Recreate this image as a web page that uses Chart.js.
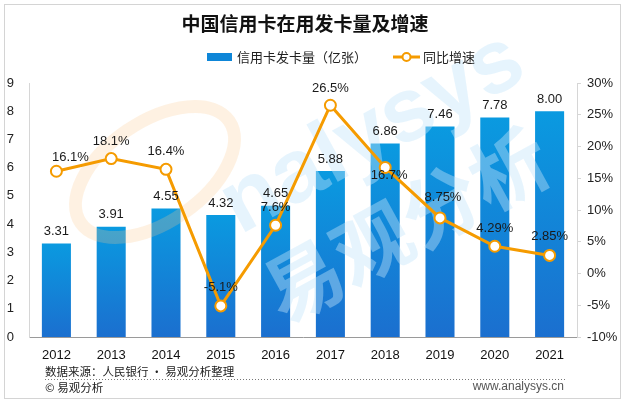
<!DOCTYPE html>
<html>
<head>
<meta charset="UTF-8">
<title>中国信用卡在用发卡量及增速</title>
<script src="https://cdn.jsdelivr.net/npm/chart.js@4.4.1/dist/chart.umd.min.js"></script>
<style>
  html, body { margin: 0; padding: 0; background: #fff; }
  #wrap { position: relative; width: 626px; height: 404px; }
</style>
</head>
<body>
<div id="wrap"><canvas id="myChart" width="626" height="404"></canvas></div>
<script>
// data
var years = ["2012", "2013", "2014", "2015", "2016", "2017", "2018", "2019", "2020", "2021"];
var cardCounts = [3.31, 3.91, 4.55, 4.32, 4.65, 5.88, 6.86, 7.46, 7.78, 8.00];
var growthRates = [16.1, 18.1, 16.4, -5.1, 7.6, 26.5, 16.7, 8.75, 4.29, 2.85];
var countTicks = { min: 0, max: 9, step: 1 };
var rateTicks = { min: -10, max: 30, step: 5 };

var titleText = "中国信用卡在用发卡量及增速";
var barName = "信用卡发卡量（亿张）";
var lineName = "同比增速";
var sourceText = "数据来源：人民银行 · 易观分析整理";
var copyText = "© 易观分析";
var siteText = "www.analysys.cn";

var ORANGE = "#f59b00";
var NUM_FONT = "13px 'Liberation Sans', Arial, sans-serif";
var CJK = "'Noto Sans CJK SC', sans-serif";

// little nudges for the growth labels so they sit like the original
var lineLabelShift = [[14, -14], [0, -17], [0, -18], [0, -18], [0, -18], [0, -17], [4, 8], [3, -21], [0, -18], [0, -19]];

function barGradient(ctx) {
  var chart = ctx.chart;
  var y = chart.scales.y;
  if (!y || ctx.type !== "data") return "#0e8fdc";
  var top = y.getPixelForValue(ctx.raw);
  var bottom = y.getPixelForValue(0);
  if (!isFinite(top) || !isFinite(bottom) || top === bottom) return "#0e8fdc";
  var g = chart.ctx.createLinearGradient(0, top, 0, bottom);
  g.addColorStop(0, "#0a9ae0");
  g.addColorStop(1, "#1b6fcf");
  return g;
}

// frame, title, legend and footer
var decorPlugin = {
  id: "decor",
  beforeDraw: function(chart) {
    var c = chart.ctx;
    c.save();
    c.fillStyle = "#fff";
    c.fillRect(0, 0, chart.width, chart.height);
    c.strokeStyle = "#d4d4d4";
    c.lineWidth = 1;
    c.strokeRect(4.5, 4.5, 616, 394);
    c.restore();
  },
  afterDraw: function(chart) {
    var c = chart.ctx;
    c.save();
    c.textBaseline = "middle";
    // title
    c.fillStyle = "#111";
    c.font = "bold 19px " + CJK;
    c.textAlign = "center";
    c.fillText(titleText, 305, 24);
    // legend
    c.textAlign = "left";
    c.font = "13px " + CJK;
    c.fillStyle = "#0e86d8";
    c.fillRect(207, 53, 25, 8);
    c.fillStyle = "#222";
    c.fillText(barName, 237, 57);
    c.strokeStyle = ORANGE;
    c.lineWidth = 3;
    c.beginPath(); c.moveTo(393, 57); c.lineTo(420, 57); c.stroke();
    c.beginPath(); c.arc(406.5, 57, 4, 0, Math.PI * 2);
    c.fillStyle = "#fff"; c.fill();
    c.lineWidth = 2; c.stroke();
    c.fillStyle = "#222";
    c.fillText(lineName, 423, 57);
    // footer
    c.font = "11.5px " + CJK;
    c.fillStyle = "#222";
    c.fillText(sourceText, 45, 372);
    c.fillText(copyText, 45, 388);
    c.fillStyle = "#555";
    c.font = "12px 'Liberation Sans', Arial, sans-serif";
    c.textAlign = "right";
    c.fillText(siteText, 564, 387);
    c.strokeStyle = "#777";
    c.lineWidth = 1;
    c.setLineDash([1, 2]);
    c.beginPath(); c.moveTo(45, 379.5); c.lineTo(567, 379.5); c.stroke();
    c.restore();
  }
};

// faint brand watermark, laid over the bars but under the line
var watermarkPlugin = {
  id: "watermark",
  afterDatasetDraw: function(chart, args) {
    if (args.meta.type !== "bar") return;
    var c = chart.ctx;
    c.save();
    c.strokeStyle = "rgba(250,200,140,0.25)";
    c.lineWidth = 13;
    c.beginPath();
    c.ellipse(155, 172, 90, 50, -0.6, 0, Math.PI * 2);
    c.stroke();
    c.fillStyle = "rgba(195,228,250,0.42)";
    c.translate(240, 235);
    c.rotate(-0.5);
    c.font = "bold 90px 'Liberation Sans', Arial, sans-serif";
    c.textBaseline = "alphabetic";
    c.fillText("nalysys", 0, 0);
    c.font = "bold 78px " + CJK;
    c.fillText("易观分析", -5, 100);
    c.restore();
  }
};

var valueLabelPlugin = {
  id: "valueLabels",
  afterDatasetsDraw: function(chart) {
    var c = chart.ctx;
    c.save();
    c.font = NUM_FONT;
    c.fillStyle = "#1a1a1a";
    c.textAlign = "center";
    c.textBaseline = "middle";
    var bars = chart.getDatasetMeta(1).data;
    bars.forEach(function(el, i) {
      c.fillText(cardCounts[i].toFixed(2), el.x, el.y - 12);
    });
    var pts = chart.getDatasetMeta(0).data;
    pts.forEach(function(el, i) {
      var s = lineLabelShift[i];
      c.fillText(growthRates[i] + "%", el.x + s[0], el.y + s[1]);
    });
    c.restore();
  }
};

new Chart(document.getElementById("myChart"), {
  data: {
    labels: years,
    datasets: [
      {
        type: "line",
        label: lineName,
        data: growthRates,
        yAxisID: "y2",
        order: 1,
        borderColor: ORANGE,
        borderWidth: 3,
        tension: 0,
        pointRadius: 5.5,
        pointBackgroundColor: "#fff",
        pointBorderColor: ORANGE,
        pointBorderWidth: 2
      },
      {
        type: "bar",
        label: barName,
        data: cardCounts,
        yAxisID: "y",
        order: 2,
        backgroundColor: barGradient,
        categoryPercentage: 1,
        barPercentage: 0.53
      }
    ]
  },
  options: {
    responsive: false,
    animation: false,
    layout: { padding: { top: 83, left: 0, right: 0, bottom: 0 } },
    plugins: {
      legend: { display: false },
      title: { display: false },
      tooltip: { enabled: false }
    },
    scales: {
      x: {
        grid: { display: false, drawTicks: false },
        border: { color: "#9a9a9a", width: 1 },
        ticks: { color: "#111", font: { size: 13, family: "'Liberation Sans', Arial, sans-serif" }, padding: 11 },
        afterFit: function(s) { s.height = 67; }
      },
      y: {
        position: "left",
        min: countTicks.min, max: countTicks.max,
        grid: { display: false, drawTicks: false },
        border: { color: "#d6d6d6", width: 1 },
        ticks: { stepSize: countTicks.step, color: "#222", font: { size: 13, family: "'Liberation Sans', Arial, sans-serif" }, padding: 15 },
        afterFit: function(s) { s.width = 29; }
      },
      y2: {
        position: "right",
        min: rateTicks.min, max: rateTicks.max,
        grid: { drawOnChartArea: false, tickLength: 4, color: "#d6d6d6" },
        border: { color: "#d6d6d6", width: 1 },
        ticks: {
          stepSize: rateTicks.step, color: "#222", padding: 6,
          font: { size: 13, family: "'Liberation Sans', Arial, sans-serif" },
          callback: function(v) { return v + "%"; }
        },
        afterFit: function(s) { s.width = 49; }
      }
    }
  },
  plugins: [decorPlugin, watermarkPlugin, valueLabelPlugin]
});
</script>
</body>
</html>
